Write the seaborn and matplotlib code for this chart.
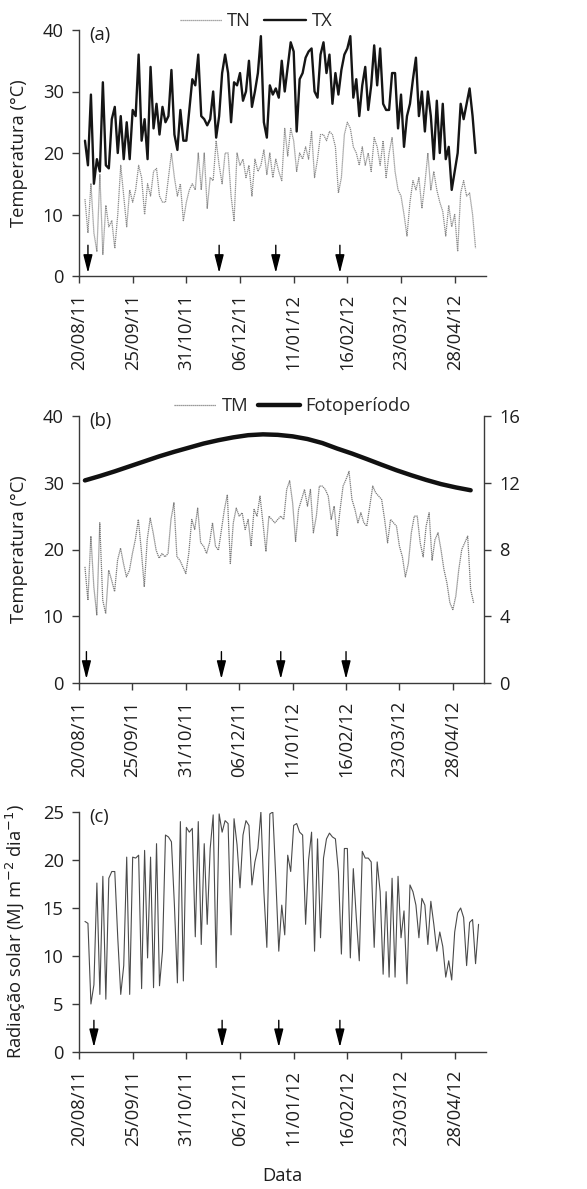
import numpy as np
import pandas as pd
import matplotlib
matplotlib.use('Agg')
import matplotlib.pyplot as plt
import seaborn as sns

sns.set_style('ticks')
plt.rcParams['font.family'] = ['Open Sans', 'DejaVu Sans']

# ---------------- data ----------------
START = '2011-08-20'
TICK_LABELS = ['20/08/11', '25/09/11', '31/10/11', '06/12/11',
               '11/01/12', '16/02/12', '23/03/12', '28/04/12']
SERIES_START = '2011-08-24'   # first reading used (every 2 days)

TX = [22, 18, 29.5, 15, 19, 17, 31.5, 18, 17.5, 25.5,
      27.5, 20, 26, 19, 25, 19, 27, 26, 36, 22,
      25.5, 19, 34, 24, 28, 23, 27.5, 25, 26, 33.5,
      23, 20.5, 27, 22, 22, 27, 32, 31, 36, 26,
      25.5, 24.5, 25.5, 30, 22.5, 26, 33, 36, 33, 25,
      31.5, 31, 33, 28.5, 30, 35, 27.5, 30, 33, 39,
      25, 22.5, 31, 29.5, 30.5, 29, 35, 30, 34, 38,
      36.5, 23.5, 32, 33, 35.5, 36.5, 37, 30, 29, 36,
      38, 33, 36, 28, 33, 29.5, 33.5, 36, 37, 39,
      29, 32, 26, 31, 34, 27, 31, 37.5, 31, 37,
      28, 27, 27, 33, 33, 24, 29.5, 21, 26, 28,
      32, 35.5, 26, 30, 23.5, 30, 26, 19, 28.5, 20,
      28, 19, 21, 14, 17, 20, 28, 25.5, 28, 30.5,
      26, 20]

TN = [12.5, 7, 15, 7, 4, 16.5, 3.5, 11.5, 8, 9,
      4.5, 10, 18, 13, 8, 14, 12, 14, 18, 16,
      10, 15, 13, 17, 17.5, 13, 12, 12, 16, 20,
      16, 13, 15, 9, 12, 14, 15, 14, 20, 14,
      20, 11, 16, 15.5, 22, 18, 15, 20, 20, 13,
      9, 20, 18, 19, 16, 18, 13, 19, 17, 18,
      20.5, 16.5, 20, 16, 19, 17, 15.5, 24, 19.5, 24,
      22, 17, 20, 19, 21, 19, 23.5, 16, 19, 23,
      23, 22, 23.5, 23, 21, 13.5, 16, 23, 25, 24,
      21, 20, 18, 21, 18, 20, 17, 22.5, 21, 18,
      22, 16, 20, 22.5, 17, 14, 13, 10, 6.5, 12,
      15.5, 14, 16, 11, 15, 20, 14, 17, 14, 12,
      10.5, 6.5, 11.5, 8, 10, 4, 13.5, 15.5, 13, 13.5,
      10, 4.5]

TM = [17.4, 12.4, 22, 14.4, 10.2, 24, 12.4, 10.4, 16.9, 15.4,
      13.7, 18.4, 20.2, 17.9, 15.9, 16.9, 19.4, 21.5, 24.5, 19.9,
      14.4, 21.5, 24.7, 22.5, 19.9, 18.7, 19.4, 18.9, 19.4, 24.5,
      27, 18.9, 18.4, 17.4, 16.4, 19.4, 24.5, 23, 26.2, 21,
      20.5, 19.4, 21, 24, 20.5, 19.9, 23, 26, 28.2, 17.9,
      24, 26.2, 25, 25.5, 23, 24.5, 20.5, 26,
      25, 28, 24, 19.7, 25, 24.5, 24, 24.5, 25, 24.5,
      29, 30.3, 27, 21.2, 26, 27.5, 29, 26.5, 29, 22.5,
      25, 29.5, 29.5, 29, 28, 24.5, 26.5, 22, 26, 29.5,
      30.5, 31.7, 27.5, 26, 24, 25.5, 24, 23.5, 26.5, 29.5,
      28.5, 28, 27.5, 24.5, 21, 24.5, 24, 23.5, 20.5, 18.9,
      15.9, 17.9, 22.5, 25, 25, 21, 18.9, 23.5, 25.5, 18.4,
      21.5, 22.5,
      20, 17, 15, 12, 11, 13, 17, 20, 21, 22, 14, 12]

# photoperiod (h), every 10 days from SERIES_START
FOTO = [12.14, 12.4, 12.68, 12.98, 13.28, 13.58, 13.85, 14.1, 14.35, 14.55,
        14.72, 14.85, 14.9, 14.87, 14.78, 14.62, 14.38, 14.05, 13.75, 13.42,
        13.08, 12.75, 12.45, 12.17, 11.92, 11.72, 11.55]

RAD = [13.6, 13.4, 5, 7, 17.6, 6, 18.3, 5.5, 18.1, 18.8,
       18.8, 11.9, 6, 9, 20.3, 6, 20.3, 20.2, 20.5, 6.6,
       21, 9.8, 20.3, 6.7, 21.7, 6.9, 10.5, 22.6, 22.4, 21.9,
       15.3, 7.2, 24, 7.4, 23.4, 22.9, 23.3, 12, 24, 11.2,
       21.7, 13.3, 21.2, 24.7, 8.8, 24.8, 22.9, 24.1, 23.8, 12.2,
       24.3, 21.6, 17.1, 22.6, 24.1, 23.6, 17.4, 19.8, 21.2, 25,
       16.7, 10.9, 24.8, 25, 18.1, 10.5, 15.3, 12.2, 20.5, 18.8,
       23.6, 23.8, 22.9, 22.6, 13.3, 20, 22.9, 10.5, 22.2, 11.9,
       20.2, 22.2, 22.8, 22.4, 22.2, 18.8, 10.2, 21.2, 21.2, 9.8,
       19.1, 14, 9.5, 20.9, 20.2, 20.2, 19.8, 10.9, 19.8, 16.7,
       8.1, 16.7, 7.8, 18.1, 7.8, 18.3, 11.9, 14.7, 7.1, 17.4,
       16.7, 15.3, 11.9, 16, 15.3, 11.2, 15.7, 13.3, 10.5, 12.5,
       11, 7.8, 9.5, 7.5, 12.5, 14.5, 15, 14, 9, 13.5,
       13.8, 9.2, 13.3]

# arrow dates (days after START) per panel
ARROWS_A = [6, 94, 132, 175]
ARROWS_B = [5, 96, 136, 180]
ARROWS_C = [10, 96, 134, 175]

# ---------------- frames ----------------
start = pd.Timestamp(START)
df_a = pd.DataFrame({'Data': pd.date_range(SERIES_START, periods=len(TX), freq='2D'),
                     'TN': TN, 'TX': TX})
df_b = pd.DataFrame({'Data': pd.date_range(SERIES_START, periods=len(TM), freq='2D'), 'TM': TM})
df_f = pd.DataFrame({'Data': pd.date_range(SERIES_START, periods=len(FOTO), freq='10D'), 'Foto': FOTO})
df_c = pd.DataFrame({'Data': pd.date_range(SERIES_START, periods=len(RAD), freq='2D'), 'Rad': RAD})
tick_dates = pd.to_datetime(TICK_LABELS, format='%d/%m/%y')
xlim = (start, start + pd.Timedelta(days=273))

W, H = 587, 1189
fig = plt.figure(figsize=(W / 100, H / 100), dpi=100)
L, R = 79, 486
axA = fig.add_axes([L / W, 1 - 276 / H, (R - L) / W, 246 / H])
axB = fig.add_axes([L / W, 1 - 683 / H, (484 - L) / W, 267 / H])
axC = fig.add_axes([L / W, 1 - 1052 / H, (R - L) / W, 240 / H])

SP = '#3a3a3a'
FS = 13.2
TC = '#1e1e1e'
dotted = (0, (1, 0.6))
label_map = {axA: '(a)', axB: '(b)', axC: '(c)'}


def style(ax, ylim, yticks, label):
    ax.set_xlim(*xlim)
    ax.set_ylim(*ylim)
    ax.set_yticks(yticks)
    ax.set_xticks(tick_dates)
    ax.set_xticklabels(TICK_LABELS, rotation=90, fontsize=FS)
    ax.tick_params(axis='both', direction='out', length=5, width=1, color=SP,
                   labelsize=FS, pad=6, labelcolor=TC)
    ax.tick_params(axis='x', pad=8)
    for s in ['top', 'right']:
        ax.spines[s].set_visible(False)
    for s in ['left', 'bottom']:
        ax.spines[s].set_color(SP)
        ax.spines[s].set_linewidth(1)
    ax.set_xlabel('')
    ax.set_ylabel(label, fontsize=FS, color=TC)
    ax.yaxis.set_label_coords(-0.125, 0.5)
    ax.text(0.025, 1.015, label_map[ax], transform=ax.transAxes, va='top',
            ha='left', fontsize=FS, color=TC)


def arrows(ax, days, y0, y1):
    for d in days:
        x = start + pd.Timedelta(days=d)
        ax.annotate('', xy=(x, y1), xytext=(x, y0),
                    arrowprops=dict(arrowstyle='-|>,head_length=1.1,head_width=0.28',
                                    color='black', lw=1.0, shrinkA=0, shrinkB=0),
                    zorder=5)


# ---- panel (a)
sns.lineplot(data=df_a, x='Data', y='TN', ax=axA, color='#8a8a8a', lw=0.9,
             linestyle=dotted, label='TN', legend=False)
sns.lineplot(data=df_a, x='Data', y='TX', ax=axA, color='#151515', lw=1.7,
             label='TX', legend=False)
style(axA, (0, 40), [0, 10, 20, 30, 40], 'Temperatura (°C)')
arrows(axA, ARROWS_A, 5.0, 0.5)
hA = axA.get_lines()[:2]
axA.legend(handles=hA, labels=['TN', 'TX'], loc='center', ncol=2,
           bbox_to_anchor=(0.435, 1.035), frameon=False, fontsize=FS,
           handlelength=2.3, handletextpad=0.3, columnspacing=0.7,
           borderaxespad=0, borderpad=0)

# ---- panel (b)
sns.lineplot(data=df_b, x='Data', y='TM', ax=axB, color='#7a7a7a', lw=0.9,
             linestyle=dotted, label='TM', legend=False)
style(axB, (0, 40), [0, 10, 20, 30, 40], 'Temperatura (°C)')
axB2 = axB.twinx()
sns.lineplot(data=df_f, x='Data', y='Foto', ax=axB2, color='#111111', lw=3.2,
             label='Fotoperíodo', legend=False)
axB2.set_ylim(0, 16)
axB2.set_yticks([0, 4, 8, 12, 16])
axB2.set_ylabel('')
axB2.set_xlim(*xlim)
axB2.tick_params(axis='y', direction='out', length=5, width=1, color=SP,
                 labelsize=FS, pad=6, labelcolor=TC)
for s in ['top', 'left', 'bottom']:
    axB2.spines[s].set_visible(False)
axB2.spines['right'].set_color(SP)
axB2.spines['right'].set_linewidth(1)
arrows(axB, ARROWS_B, 4.7, 0.6)
hB = [axB.get_lines()[0], axB2.get_lines()[0]]
axB.legend(handles=hB, labels=['TM', 'Fotoperíodo'], loc='center', ncol=2,
           bbox_to_anchor=(0.527, 1.037), frameon=False, fontsize=FS,
           handlelength=2.3, handletextpad=0.3, columnspacing=0.5,
           borderaxespad=0, borderpad=0)

# ---- panel (c)
sns.lineplot(data=df_c, x='Data', y='Rad', ax=axC, color='#4a4a4a', lw=0.8,
             legend=False)
style(axC, (0, 25), [0, 5, 10, 15, 20, 25], 'Radiação solar (MJ m$^{-2}$ dia$^{-1}$)')
arrows(axC, ARROWS_C, 3.3, 0.5)
axC.set_xlabel('Data', fontsize=FS, color=TC)
axC.xaxis.set_label_coords(0.5, -0.48)

fig.savefig('out.png', dpi=100)
